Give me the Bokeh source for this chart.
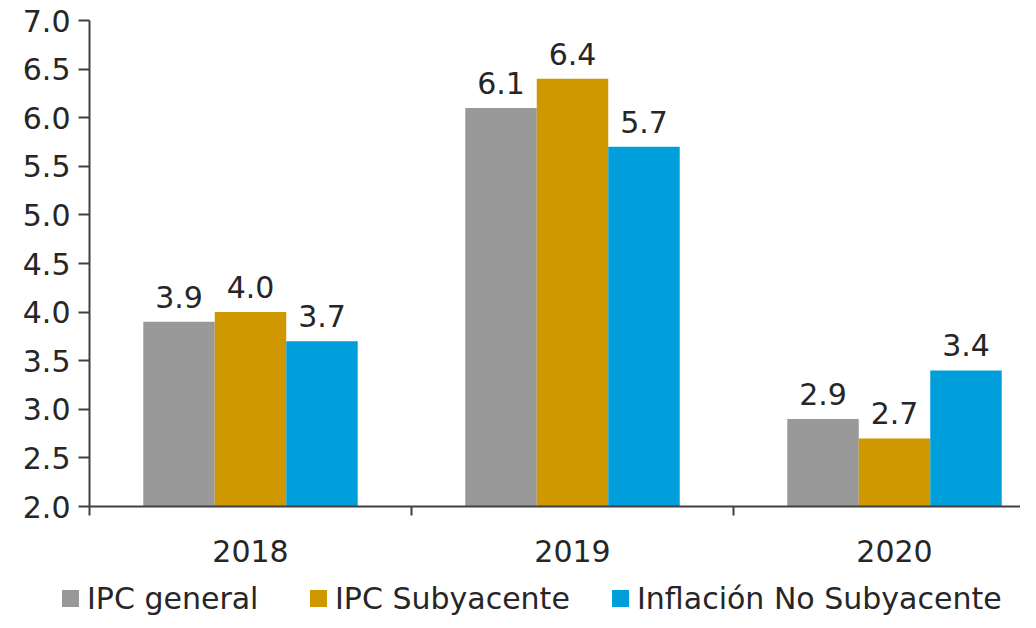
from bokeh.plotting import figure
from bokeh.models import (ColumnDataSource, Range1d, FixedTicker, NumeralTickFormatter,
                          LabelSet, Div)
from bokeh.layouts import column
from bokeh.core.properties import value
from bokeh.transform import dodge
from bokeh.embed import file_html
from bokeh.resources import INLINE

# ---- data ----
years = ["2018", "2019", "2020"]
ipc_general = [3.9, 6.1, 2.9]
ipc_subyacente = [4.0, 6.4, 2.7]
inflacion_no_subyacente = [3.7, 5.7, 3.4]
series_names = ["IPC general", "IPC Subyacente", "Inflación No Subyacente"]
y_ticks = [2.0, 2.5, 3.0, 3.5, 4.0, 4.5, 5.0, 5.5, 6.0, 6.5, 7.0]

# ---- style ----
colors = ["#999999", "#CF9800", "#009FDC"]
FONT = "DejaVu Sans"
FS = "30px"
TXT = "#262626"
AXC = "#404040"
BAR_W = 0.222

xs = list(range(len(years)))
src = ColumnDataSource(dict(
    x=xs,
    g=ipc_general, s=ipc_subyacente, n=inflacion_no_subyacente,
    gl=[f"{v:.1f}" for v in ipc_general],
    sl=[f"{v:.1f}" for v in ipc_subyacente],
    nl=[f"{v:.1f}" for v in inflacion_no_subyacente],
))

p = figure(frame_width=931, frame_height=486,
           x_range=Range1d(-0.5, -0.5 + 931 / 322), y_range=Range1d(2.0, 7.0),
           output_backend="svg", toolbar_location=None,
           min_border_left=89, min_border_right=0, min_border_top=20,
           min_border_bottom=62)
p.outline_line_color = None
p.xgrid.visible = False
p.ygrid.visible = False
p.background_fill_color = "white"
p.border_fill_color = "white"

offsets = [-BAR_W, 0.0, BAR_W]
cols = ["g", "s", "n"]
lcols = ["gl", "sl", "nl"]
for off, c, lc, col, nm in zip(offsets, cols, lcols, colors, series_names):
    p.vbar(x=dodge("x", off, range=p.x_range), top=c, bottom=2.0, width=BAR_W,
           source=src, fill_color=col, line_color=None, name=nm)
    lab = LabelSet(x=dodge("x", off, range=p.x_range), y=c, text=lc, source=src,
                   text_align="center", text_baseline="bottom", y_offset=14,
                   text_font=value(FONT), text_font_size=value(FS), text_color=TXT)
    p.add_layout(lab)

# y axis
ya = p.yaxis[0]
ya.ticker = FixedTicker(ticks=y_ticks)
ya.formatter = NumeralTickFormatter(format="0.0")
ya.minor_tick_line_color = None
ya.major_tick_in = 0
ya.major_tick_out = 11
ya.major_label_standoff = 8
ya.axis_line_color = AXC
ya.axis_line_width = 2
ya.major_tick_line_color = AXC
ya.major_tick_line_width = 2

# x axis
xa = p.xaxis[0]
xa.ticker = FixedTicker(ticks=xs, minor_ticks=[i - 0.5 for i in range(len(years) + 1)])
xa.major_label_overrides = {i: y for i, y in enumerate(years)}
xa.major_tick_in = 0
xa.major_tick_out = 0
xa.minor_tick_in = 0
xa.minor_tick_out = 9
xa.minor_tick_line_color = AXC
xa.minor_tick_line_width = 2
xa.major_label_standoff = 24
xa.axis_line_color = AXC
xa.axis_line_width = 2

for ax in (xa, ya):
    ax.major_label_text_font = FONT
    ax.major_label_text_font_size = FS
    ax.major_label_text_color = TXT

# ---- legend strip below the chart (HTML text) ----
swatch_left = [62, 310, 612]
parts = []
for nm, col, left in zip(series_names, colors, swatch_left):
    parts.append(
        f'<div style="position:absolute;left:{left}px;top:22px;width:17px;height:17px;'
        f'background:{col};"></div>'
        f'<div style="position:absolute;left:{left + 25}px;top:16px;line-height:30px;'
        f'white-space:nowrap;">{nm}</div>'
    )
legend_html = (
    f'<div style="position:relative;width:1020px;height:44px;font-family:\'{FONT}\';'
    f'font-size:{FS};color:{TXT};">' + "".join(parts) + '</div>'
)
legend_div = Div(text=legend_html, width=1020, height=44, margin=(0, 0, 0, 0))

layout = column(p, legend_div, spacing=0)
html = file_html(layout, INLINE)
open("out.html", "w").write(html)
